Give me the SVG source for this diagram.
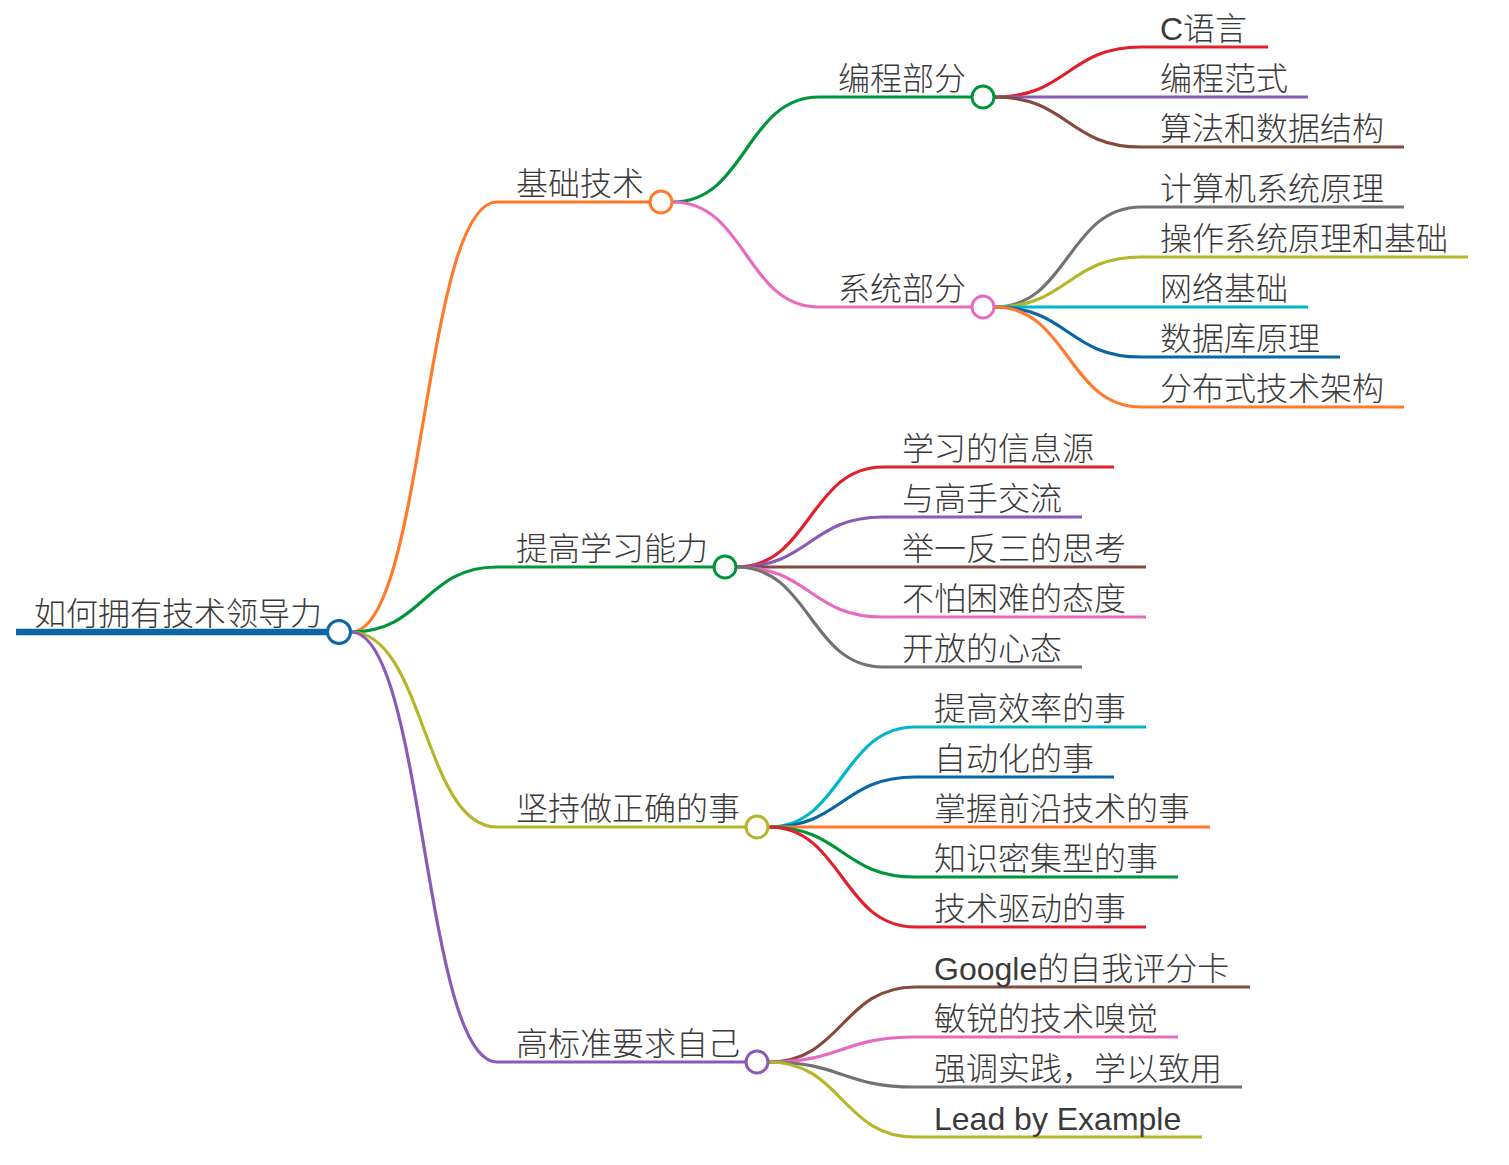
<svg xmlns="http://www.w3.org/2000/svg" width="1509" height="1165" viewBox="0 0 1509 1165">
<style>
text{font-family:"Liberation Sans","Noto Sans CJK SC",sans-serif;font-size:32px;font-weight:300;fill:#3a3a3a}
.ln{fill:none;stroke-linecap:butt}
.l0{stroke-width:6.5}
.l1{stroke-width:3.2}
.l2{stroke-width:3}
.lk{fill:none;stroke-width:3.2}
.c{fill:#fff;stroke-width:3}
.blue{stroke:#0A67A3}.orange{stroke:#FF7A2A}.green{stroke:#00953A}.red{stroke:#E1202E}
.purple{stroke:#8A5BB6}.brown{stroke:#84493F}.pink{stroke:#E86ABF}.gray{stroke:#727272}
.olive{stroke:#B6B629}.cyan{stroke:#00B6CB}
</style>
<g id="connectors">
<path class="lk orange" d="M351,632 C424,632 424,202 497,202"/>
<path class="lk green" d="M351,632 C424,632 424,567 497,567"/>
<path class="lk olive" d="M351,632 C424,632 424,827 497,827"/>
<path class="lk purple" d="M351,632 C424,632 424,1062 497,1062"/>
<path class="lk green" d="M673,202 C746,202 746,97 819,97"/>
<path class="lk pink" d="M673,202 C746,202 746,307 819,307"/>
<path class="lk red" d="M995,97 C1068,97 1068,47 1141,47"/>
<path class="lk purple" d="M995,97 L1141,97"/>
<path class="lk brown" d="M995,97 C1068,97 1068,147 1141,147"/>
<path class="lk gray" d="M995,307 C1068,307 1068,207 1141,207"/>
<path class="lk olive" d="M995,307 C1068,307 1068,257 1141,257"/>
<path class="lk cyan" d="M995,307 L1141,307"/>
<path class="lk blue" d="M995,307 C1068,307 1068,357 1141,357"/>
<path class="lk orange" d="M995,307 C1068,307 1068,407 1141,407"/>
<path class="lk red" d="M737,567 C810,567 810,467 883,467"/>
<path class="lk purple" d="M737,567 C810,567 810,517 883,517"/>
<path class="lk brown" d="M737,567 L883,567"/>
<path class="lk pink" d="M737,567 C810,567 810,617 883,617"/>
<path class="lk gray" d="M737,567 C810,567 810,667 883,667"/>
<path class="lk cyan" d="M769,827 C842,827 842,727 915,727"/>
<path class="lk blue" d="M769,827 C842,827 842,777 915,777"/>
<path class="lk orange" d="M769,827 L915,827"/>
<path class="lk green" d="M769,827 C842,827 842,877 915,877"/>
<path class="lk red" d="M769,827 C842,827 842,927 915,927"/>
<path class="lk brown" d="M769,1062 C842,1062 842,987 915,987"/>
<path class="lk pink" d="M769,1062 C842,1062 842,1037 915,1037"/>
<path class="lk gray" d="M769,1062 C842,1062 842,1087 915,1087"/>
<path class="lk olive" d="M769,1062 C842,1062 842,1137 915,1137"/>
</g>
<g id="root"><line class="ln l0 blue" x1="16" y1="632" x2="328" y2="632"/><circle class="c blue" cx="339" cy="632" r="11.5"/><text x="34" y="625">如何拥有技术领导力</text></g>
<g id="n-jichu"><line class="ln l1 orange" x1="497" y1="202" x2="650" y2="202"/><circle class="c orange" cx="661" cy="202" r="11"/><text x="516" y="195">基础技术</text></g>
<g id="n-biancheng"><line class="ln l2 green" x1="819" y1="97" x2="972" y2="97"/><circle class="c green" cx="983" cy="97" r="11"/><text x="838" y="90">编程部分</text></g>
<g id="n-c"><line class="ln l2 red" x1="1141" y1="47" x2="1268" y2="47"/><text x="1160" y="40">C语言</text></g>
<g id="n-fanshi"><line class="ln l2 purple" x1="1141" y1="97" x2="1308" y2="97"/><text x="1160" y="90">编程范式</text></g>
<g id="n-suanfa"><line class="ln l2 brown" x1="1141" y1="147" x2="1404" y2="147"/><text x="1160" y="140">算法和数据结构</text></g>
<g id="n-xitong"><line class="ln l2 pink" x1="819" y1="307" x2="972" y2="307"/><circle class="c pink" cx="983" cy="307" r="11"/><text x="838" y="300">系统部分</text></g>
<g id="n-jisuanji"><line class="ln l2 gray" x1="1141" y1="207" x2="1404" y2="207"/><text x="1160" y="200">计算机系统原理</text></g>
<g id="n-caozuo"><line class="ln l2 olive" x1="1141" y1="257" x2="1468" y2="257"/><text x="1160" y="250">操作系统原理和基础</text></g>
<g id="n-wangluo"><line class="ln l2 cyan" x1="1141" y1="307" x2="1308" y2="307"/><text x="1160" y="300">网络基础</text></g>
<g id="n-shujuku"><line class="ln l2 blue" x1="1141" y1="357" x2="1340" y2="357"/><text x="1160" y="350">数据库原理</text></g>
<g id="n-fenbushi"><line class="ln l2 orange" x1="1141" y1="407" x2="1404" y2="407"/><text x="1160" y="400">分布式技术架构</text></g>
<g id="n-xuexi"><line class="ln l1 green" x1="497" y1="567" x2="714" y2="567"/><circle class="c green" cx="725" cy="567" r="11"/><text x="516" y="560">提高学习能力</text></g>
<g id="n-xinxiyuan"><line class="ln l2 red" x1="883" y1="467" x2="1114" y2="467"/><text x="902" y="460">学习的信息源</text></g>
<g id="n-jiaoliu"><line class="ln l2 purple" x1="883" y1="517" x2="1082" y2="517"/><text x="902" y="510">与高手交流</text></g>
<g id="n-juyi"><line class="ln l2 brown" x1="883" y1="567" x2="1146" y2="567"/><text x="902" y="560">举一反三的思考</text></g>
<g id="n-bupa"><line class="ln l2 pink" x1="883" y1="617" x2="1146" y2="617"/><text x="902" y="610">不怕困难的态度</text></g>
<g id="n-kaifang"><line class="ln l2 gray" x1="883" y1="667" x2="1082" y2="667"/><text x="902" y="660">开放的心态</text></g>
<g id="n-jianchi"><line class="ln l1 olive" x1="497" y1="827" x2="746" y2="827"/><circle class="c olive" cx="757" cy="827" r="11"/><text x="516" y="820">坚持做正确的事</text></g>
<g id="n-xiaolv"><line class="ln l2 cyan" x1="915" y1="727" x2="1146" y2="727"/><text x="934" y="720">提高效率的事</text></g>
<g id="n-zidonghua"><line class="ln l2 blue" x1="915" y1="777" x2="1114" y2="777"/><text x="934" y="770">自动化的事</text></g>
<g id="n-qianyan"><line class="ln l2 orange" x1="915" y1="827" x2="1210" y2="827"/><text x="934" y="820">掌握前沿技术的事</text></g>
<g id="n-zhishi"><line class="ln l2 green" x1="915" y1="877" x2="1178" y2="877"/><text x="934" y="870">知识密集型的事</text></g>
<g id="n-qudong"><line class="ln l2 red" x1="915" y1="927" x2="1146" y2="927"/><text x="934" y="920">技术驱动的事</text></g>
<g id="n-gaobiaozhun"><line class="ln l1 purple" x1="497" y1="1062" x2="746" y2="1062"/><circle class="c purple" cx="757" cy="1062" r="11"/><text x="516" y="1055">高标准要求自己</text></g>
<g id="n-google"><line class="ln l2 brown" x1="915" y1="987" x2="1250" y2="987"/><text x="934" y="980">Google的自我评分卡</text></g>
<g id="n-minrui"><line class="ln l2 pink" x1="915" y1="1037" x2="1178" y2="1037"/><text x="934" y="1030">敏锐的技术嗅觉</text></g>
<g id="n-shijian"><line class="ln l2 gray" x1="915" y1="1087" x2="1242" y2="1087"/><text x="934" y="1080">强调实践，学以致用</text></g>
<g id="n-lead"><line class="ln l2 olive" x1="915" y1="1137" x2="1202" y2="1137"/><text x="934" y="1130">Lead by Example</text></g>
</svg>
